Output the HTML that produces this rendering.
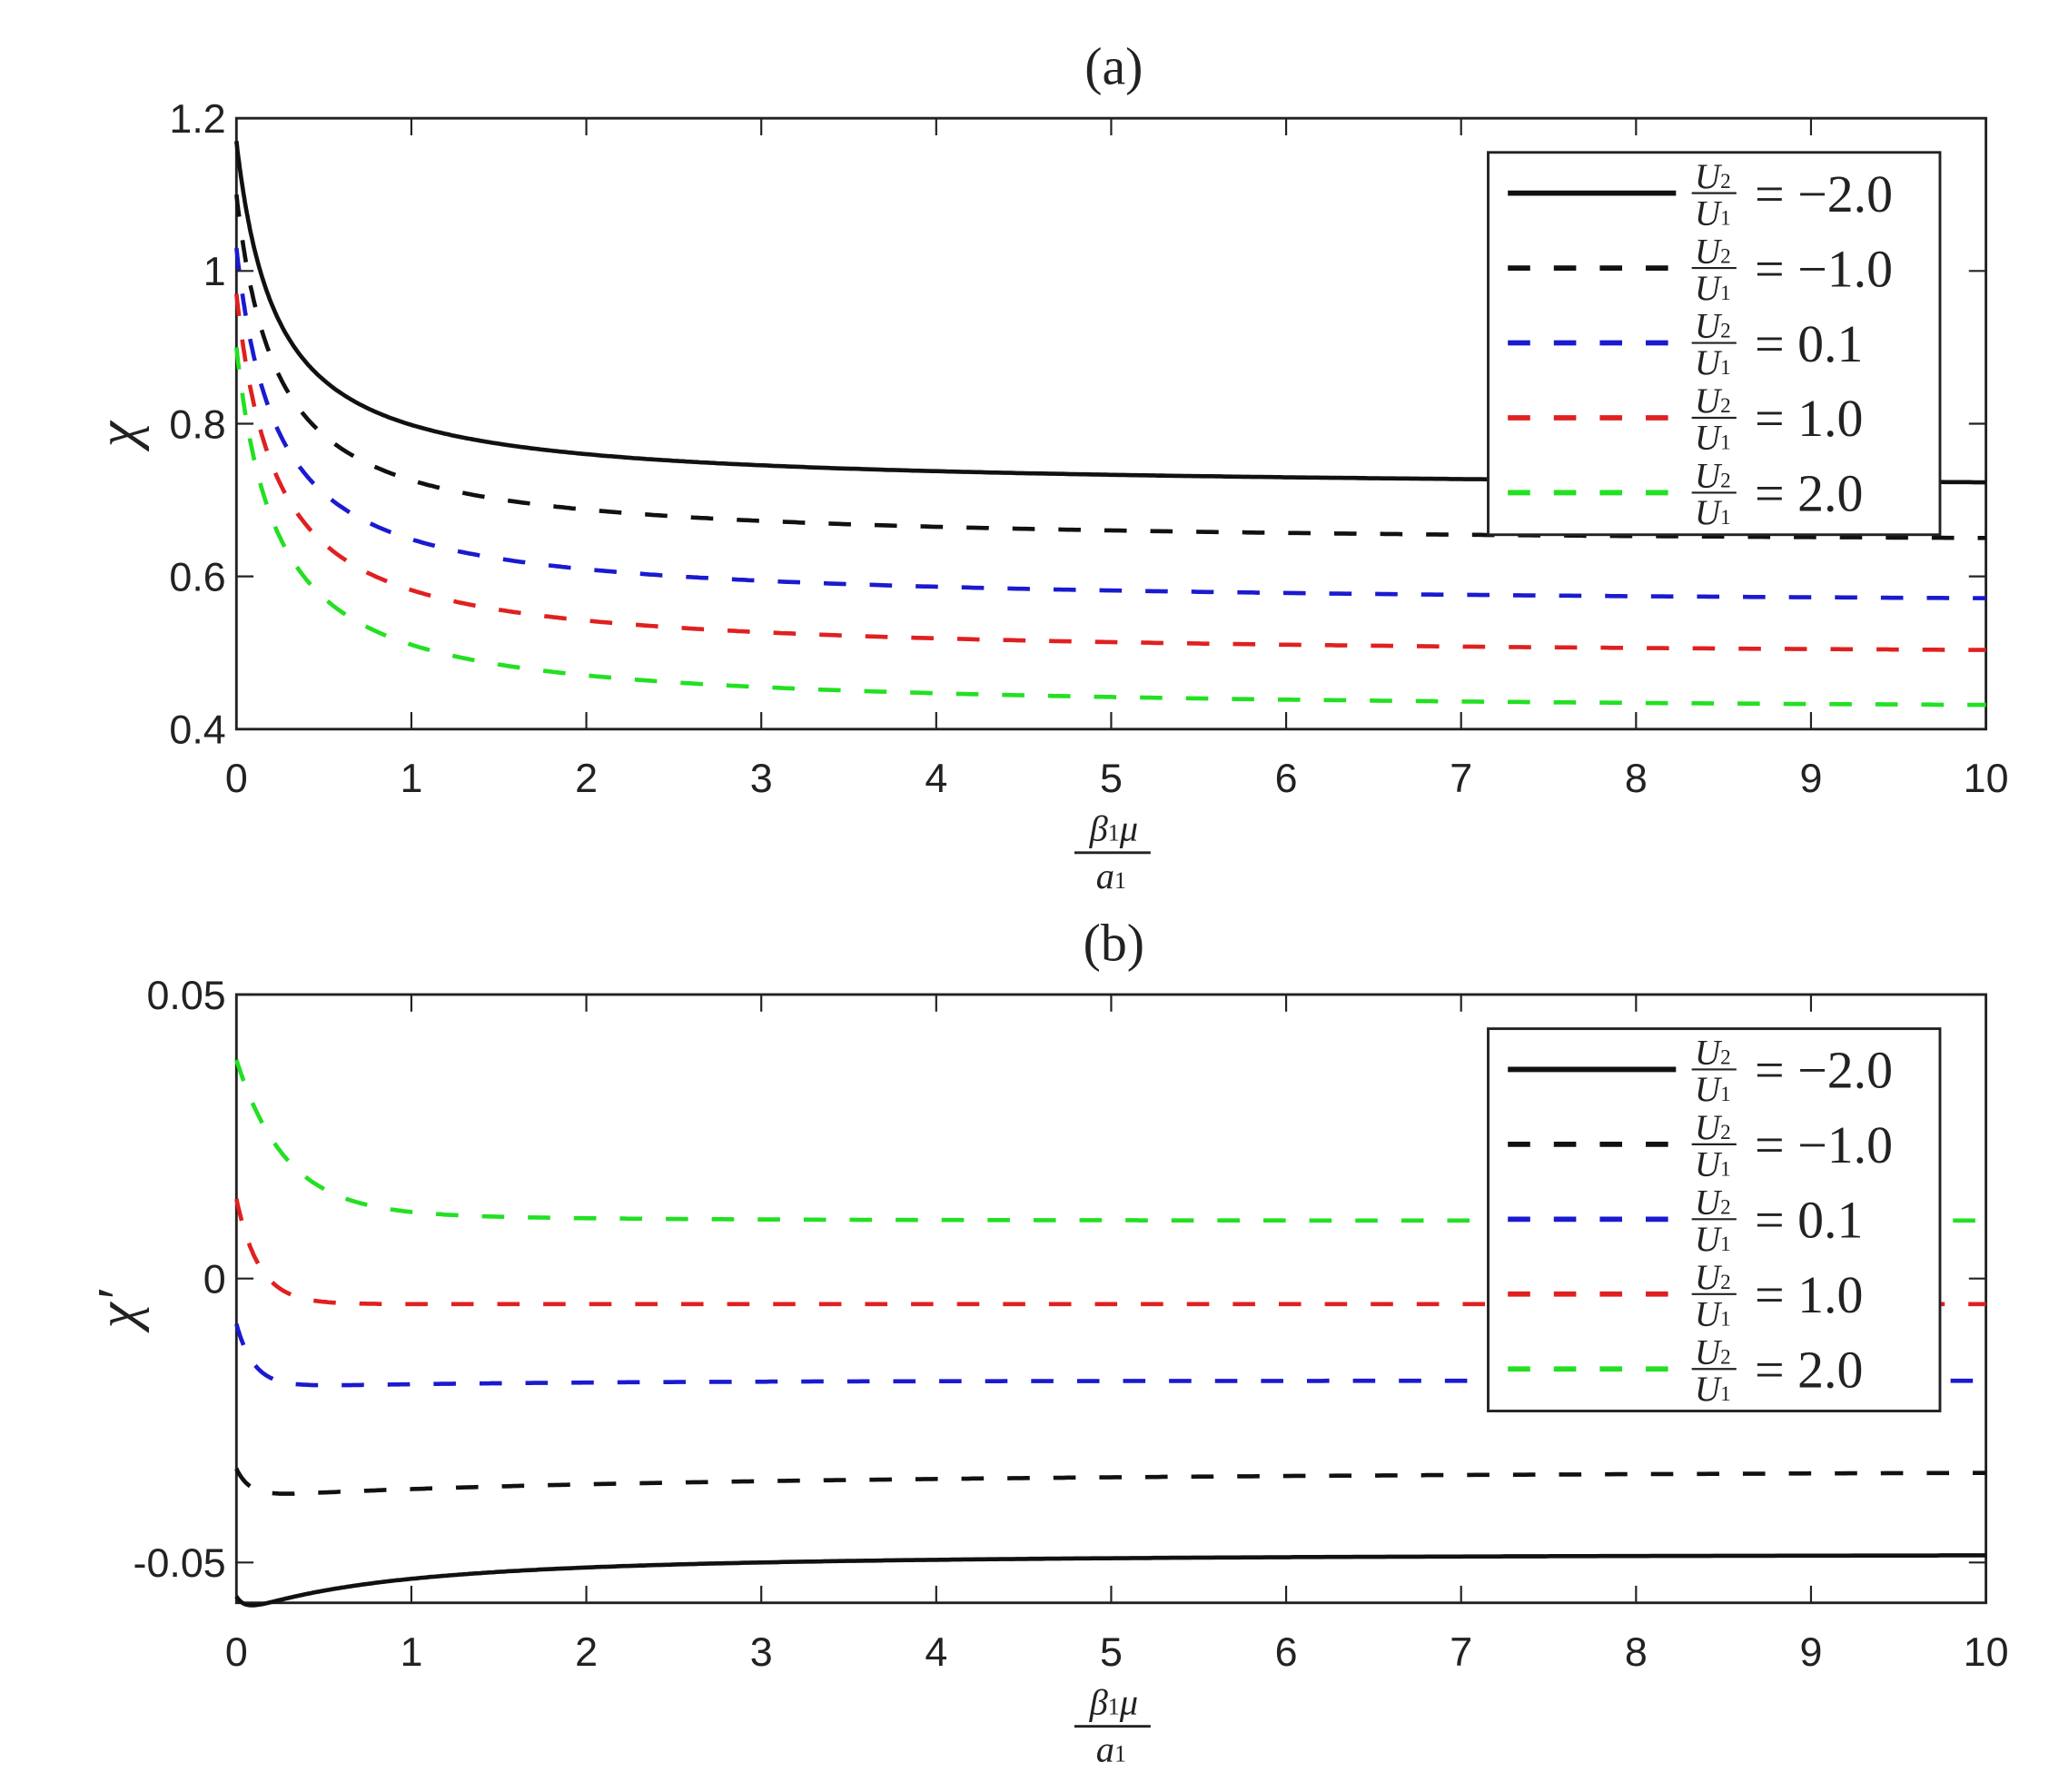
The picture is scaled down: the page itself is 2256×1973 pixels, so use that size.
<!DOCTYPE html>
<html><head><meta charset="utf-8"><style>
html,body{margin:0;padding:0;background:#fff;}
svg{display:block;}
.tk{font-family:"Liberation Sans",sans-serif;font-size:31px;fill:#222;}
.sf{font-family:"Liberation Serif",serif;fill:#222;}
</style></head><body>
<svg id="s" width="2256" height="1973" viewBox="0 0 1560 1364" preserveAspectRatio="none" xmlns="http://www.w3.org/2000/svg">
<rect width="1560" height="1364" fill="#fff"/>
<g id="g"></g>
</svg>
<script>
const g=document.getElementById('g');let h='';
const X0=180,X1=1512;const xs=x=>X0+(X1-X0)*x/10;
function panel(top,bot,ymin,ymax,yt,ylabs,title,ylab,curves,leg){
  const ys=y=>bot-(bot-top)*(y-ymin)/(ymax-ymin);
  h+=`<rect x="${X0}" y="${top}" width="${X1-X0}" height="${bot-top}" fill="none" stroke="#222" stroke-width="2"/>`;
  for(let i=0;i<=10;i++){const x=xs(i);h+=`<line x1="${x}" y1="${bot}" x2="${x}" y2="${bot-13}" stroke="#222" stroke-width="1.5"/><line x1="${x}" y1="${top}" x2="${x}" y2="${top+13}" stroke="#222" stroke-width="1.5"/>`;
    h+=`<text class="tk" x="${x}" y="${bot+48}" text-anchor="middle">${i}</text>`;}
  yt.forEach((v,i)=>{const y=ys(v);h+=`<line x1="${X0}" y1="${y}" x2="${X0+13}" y2="${y}" stroke="#222" stroke-width="1.5"/><line x1="${X1}" y1="${y}" x2="${X1-13}" y2="${y}" stroke="#222" stroke-width="1.5"/><text class="tk" x="${X0-8}" y="${y+11}" text-anchor="end">${ylabs[i]}</text>`;});
  h+=`<text class="sf" x="848" y="${top-26}" font-size="40" text-anchor="middle">${title}</text>`;
  h+=`<text class="sf" font-style="italic" font-size="44" transform="translate(104,${(top+bot)/2+8}) rotate(-90)" text-anchor="middle">${ylab}</text>`;
  h+=`<text class="sf" font-style="italic" font-size="28" x="848" y="${bot+85}" text-anchor="middle">β<tspan font-size="18" font-style="normal">1</tspan>μ</text><line x1="818" y1="${bot+94}" x2="876" y2="${bot+94}" stroke="#222" stroke-width="2"/><text class="sf" font-style="italic" font-size="28" x="846" y="${bot+121}" text-anchor="middle">a<tspan font-size="18" font-style="normal">1</tspan></text>`;
  curves.forEach(c=>{let d='';for(let i=0;i<=500;i++){const x=10*Math.pow(i/500,1.6);d+=(i?'L':'M')+xs(x).toFixed(1)+','+ys(c.f(x)).toFixed(1);}
    h+=`<path d="${d}" fill="none" stroke="${c.c}" stroke-width="3.2" ${c.dash?'stroke-dasharray="17 18"':''}/>`;});
  const lt=leg,lb=leg+291;
  h+=`<rect x="1133" y="${lt}" width="344" height="${lb-lt}" fill="#fff" stroke="#222" stroke-width="2"/>`;
  const labs=['= −2.0','= −1.0','= 0.1','= 1.0','= 2.0'];
  curves.forEach((c,i)=>{const y=lt+31+i*57;
    h+=`<line x1="1148" y1="${y}" x2="1276" y2="${y}" stroke="${c.c}" stroke-width="4" ${c.dash?'stroke-dasharray="17 18"':''}/>`;
    h+=`<text class="sf" font-style="italic" font-size="27" x="1304" y="${y-4}" text-anchor="middle">U<tspan font-size="16" font-style="normal">2</tspan></text><line x1="1288" y1="${y}" x2="1322" y2="${y}" stroke="#222" stroke-width="1.5"/><text class="sf" font-style="italic" font-size="27" x="1304" y="${y+24}" text-anchor="middle">U<tspan font-size="16" font-style="normal">1</tspan></text>`;
    h+=`<text class="sf" font-size="40" x="1336" y="${y+14}">${labs[i]}</text>`;});
}
const hy=(y0,L,k)=>x=>L+(y0-L)/(1+k*x);
panel(90,555,0.4,1.2,[0.4,0.6,0.8,1,1.2],['0.4','0.6','0.8','1','1.2'],'(a)','χ',[
 {c:'#111',dash:false,f:hy(1.17,0.713,4.35)},
 {c:'#111',dash:true,f:hy(1.10,0.640,4.35)},
 {c:'#1a1ad0',dash:true,f:hy(1.03,0.561,4.35)},
 {c:'#e02020',dash:true,f:hy(0.97,0.493,4.35)},
 {c:'#22e022',dash:true,f:hy(0.90,0.421,4.35)}],116);
panel(757,1220,-0.0571,0.05,[-0.05,0,0.05],['-0.05','0','0.05'],'(b)','χ′',[
 {c:'#111',dash:false,f:x=>-0.0485-(0.0105/Math.pow(1+0.55*x,2)-0.003*Math.exp(-x/0.05))},
 {c:'#111',dash:true,f:x=>-0.0335-0.0055/(1+0.35*x)*(1-Math.exp(-x/0.08))+0.0005-0.0005*Math.exp(-x/0.1)},
 {c:'#1a1ad0',dash:true,f:x=>-0.018+0.010*Math.exp(-x/0.1)-0.0012*(1-Math.exp(-x/0.1))*Math.exp(-x/1.5)},
 {c:'#e02020',dash:true,f:x=>-0.0045+0.0185*Math.exp(-x/0.13)},
 {c:'#22e022',dash:true,f:x=>0.0102+0.0268*Math.exp(-x/0.28)+0.0015*Math.exp(-x/1.5)}],783);
g.innerHTML=h;
</script>
</body></html>
